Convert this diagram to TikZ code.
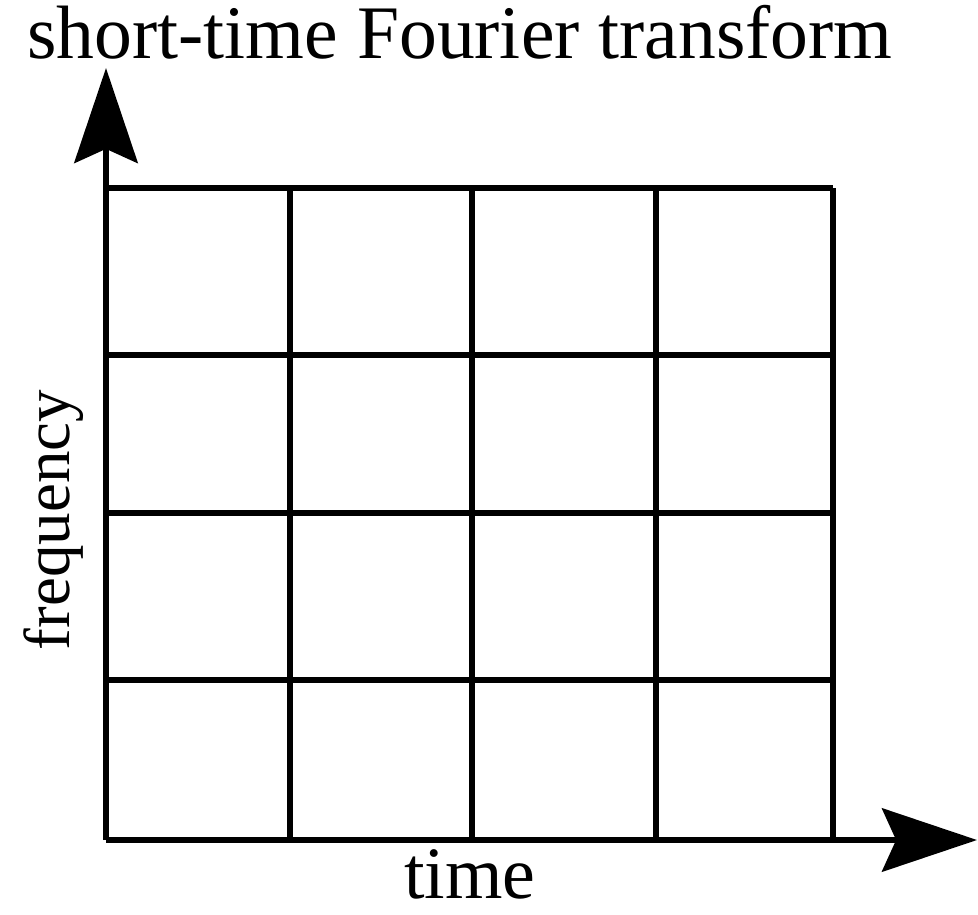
\documentclass[tikz,border=0pt]{standalone}
\usepackage{fontspec}
\setmainfont{Liberation Serif}
\usetikzlibrary{arrows.meta}

\begin{document}
\begin{tikzpicture}[x=0.01cm, y=-0.01cm,
    gridline/.style={line width=1.7pt},
    axisline/.style={line width=1.7pt, -{Stealth[length=27pt, width=18pt, inset=4pt]}},
    label/.style={inner sep=0pt, anchor=base, font=\fontsize{21}{24}\selectfont}]
  \useasboundingbox (0,0) rectangle (978,914);
  % grid cells
  \foreach \x in {290,472,656,833}
    \draw[gridline] (\x,188) -- (\x,840);
  \foreach \y in {188,355,513,680}
    \draw[gridline] (106,\y) -- (833,\y);
  % axes
  \coordinate (origin) at (106,840);
  \coordinate (ytip) at (106,68);
  \coordinate (xtip) at (977,840);
  \draw[axisline] (origin) -- (ytip);
  \draw[axisline] (origin) -- (xtip);
  \node[label, font=\fontsize{21.5}{25}\selectfont] (title) at (460,58) {short-time Fourier transform};
  \node[label] (timelabel) at (470,898) {time};
  \node[label, rotate=90, font=\fontsize{18.5}{22}\selectfont] (freqlabel) at (70,520) {frequency};
\end{tikzpicture}
\end{document}
